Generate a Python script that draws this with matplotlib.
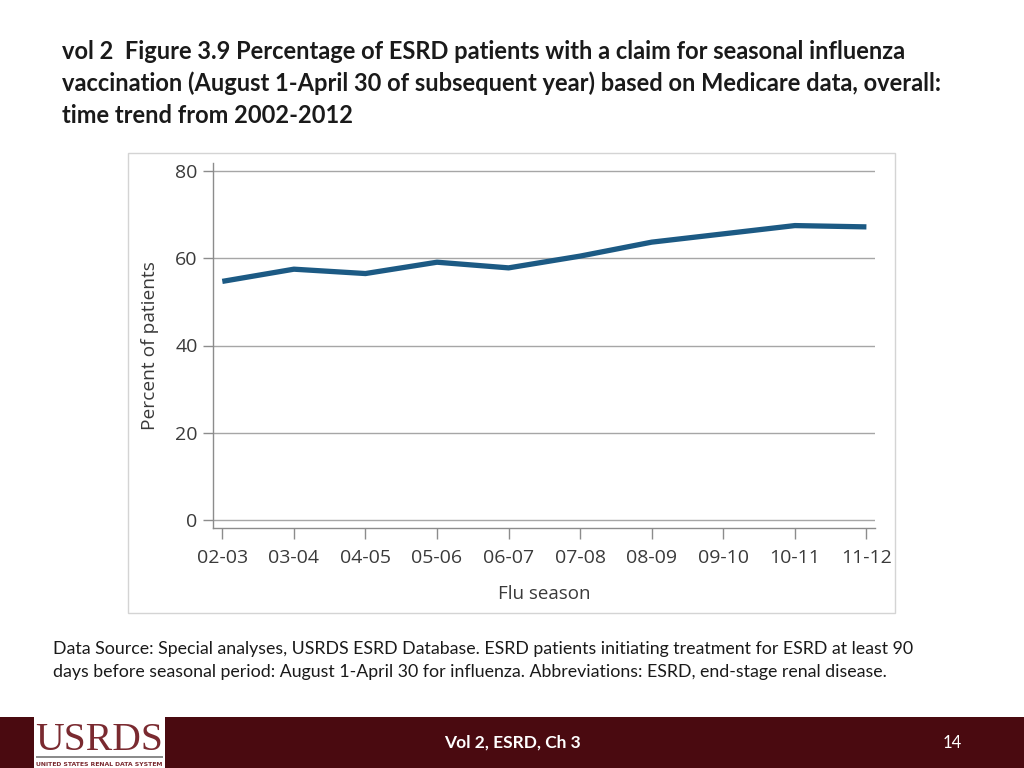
import matplotlib
matplotlib.use("Agg")
import matplotlib.pyplot as plt
from matplotlib.patches import Rectangle

seasons = ["02-03", "03-04", "04-05", "05-06", "06-07", "07-08", "08-09", "09-10", "10-11", "11-12"]
percent = [54.7, 57.5, 56.5, 59.1, 57.8, 60.5, 63.7, 65.6, 67.5, 67.2]
yticks = [0, 20, 40, 60, 80]

title = ("vol 2  Figure 3.9 Percentage of ESRD patients with a claim for seasonal influenza\n"
         "vaccination (August 1-April 30 of subsequent year) based on Medicare data, overall:\n"
         "time trend from 2002-2012")
note = ("Data Source: Special analyses, USRDS ESRD Database. ESRD patients initiating treatment for ESRD at least 90\n"
        "days before seasonal period: August 1-April 30 for influenza. Abbreviations: ESRD, end-stage renal disease.")

W, H = 1024, 768
fig = plt.figure(figsize=(10.24, 7.68), dpi=100)
fig.patch.set_facecolor("white")

def fx(px):
    return px / W

def fy(py):
    return 1 - py / H

# Chart frame
fig.add_artist(Rectangle((fx(128), fy(613)), fx(895) - fx(128), fy(153) - fy(613),
                         transform=fig.transFigure, fill=False, edgecolor="#d4d4d4", lw=1.0))

ax = fig.add_axes([fx(213), fy(528), fx(875) - fx(213), fy(163) - fy(528)])
x = list(range(len(seasons)))
ax.plot(x, percent, color="#1c5a84", lw=3.8, solid_capstyle="butt", zorder=3)
ax.set_xlim(-0.13, 9.12)
ax.set_ylim(-1.85, 81.85)
ax.set_yticks(yticks)
ax.set_xticks(x)
ax.set_xticklabels(seasons)
for t in yticks:
    ax.axhline(t, color="#a6a6a6", lw=1.0, zorder=1)
for s in ["top", "right"]:
    ax.spines[s].set_visible(False)
for s in ["left", "bottom"]:
    ax.spines[s].set_color("#8c8c8c")
    ax.spines[s].set_linewidth(1.0)
ax.tick_params(axis="y", length=7, width=1.0, color="#8c8c8c", pad=4,
               labelsize=14, labelcolor="#3a3a3a")
ax.tick_params(axis="x", length=8, width=1.0, color="#8c8c8c", pad=7,
               labelsize=14, labelcolor="#3a3a3a")
for lab in ax.get_xticklabels() + ax.get_yticklabels():
    lab.set_fontfamily("Open Sans")
ax.set_ylabel("Percent of patients", fontsize=13.8, family="Open Sans", color="#3a3a3a", labelpad=12)
ax.set_xlabel("Flu season", fontsize=13.5, family="Open Sans", color="#3a3a3a", labelpad=13)

# Title
fig.text(fx(62), fy(40), title, ha="left", va="top", fontsize=17, fontweight="bold",
         family="Lato", color="#1a1a1a", linespacing=1.45)

# Note
fig.text(fx(53), fy(641), note, ha="left", va="top", fontsize=12.8,
         family="Lato", color="#1a1a1a", linespacing=1.55)

# Footer band
fig.add_artist(Rectangle((0, 0), 1, fy(717), transform=fig.transFigure,
                         facecolor="#4a0a10", edgecolor="none"))
# Logo box
fig.add_artist(Rectangle((fx(34), 0), fx(165) - fx(34), fy(713), transform=fig.transFigure,
                         facecolor="white", edgecolor="none"))
fig.text(fx(99.5), fy(740), "USRDS", ha="center", va="center", fontsize=28.5,
         family="Liberation Serif", color="#7a2a30")
fig.add_artist(Rectangle((fx(36), fy(758)), fx(163) - fx(36), 2.0 / H, transform=fig.transFigure,
                         facecolor="#8c8c8c", edgecolor="none"))
fig.text(fx(99.5), fy(764), "UNITED STATES RENAL DATA SYSTEM", ha="center", va="center",
         fontsize=4.4, fontweight="bold", family="DejaVu Sans", color="#7a2a30")

fig.text(fx(512), fy(743), "Vol 2, ESRD, Ch 3", ha="center", va="center", fontsize=12.5,
         fontweight="bold", family="Lato", color="white")
fig.text(fx(952), fy(743), "14", ha="center", va="center", fontsize=12,
         family="Lato", color="white")

fig.savefig("out.png", dpi=100)
